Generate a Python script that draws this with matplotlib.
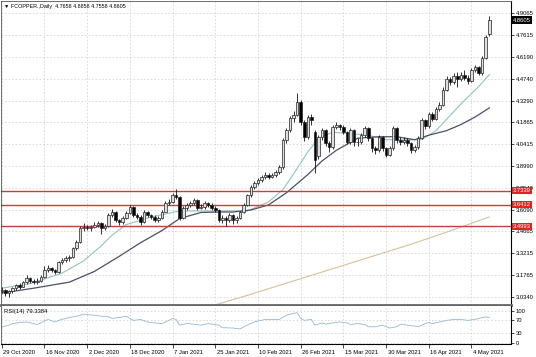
import matplotlib.pyplot as plt
import matplotlib.transforms as mtransforms
import numpy as np

# daily OHLC bars (bar 0 = 29 Oct 2020)
opens = [3.070, 3.078, 3.058, 3.070, 3.090, 3.110, 3.100, 3.130, 3.157, 3.140,
         3.130, 3.140, 3.164, 3.210, 3.220, 3.210, 3.197, 3.263, 3.276, 3.290,
         3.296, 3.355, 3.395, 3.487, 3.494, 3.487, 3.494, 3.507, 3.520, 3.487,
         3.500, 3.573, 3.593, 3.540, 3.527, 3.553, 3.586, 3.626, 3.573, 3.560,
         3.527, 3.593, 3.573, 3.560, 3.540, 3.553, 3.593, 3.652, 3.660, 3.705,
         3.690, 3.553, 3.620, 3.639, 3.652, 3.672, 3.620, 3.626, 3.652, 3.639,
         3.620, 3.606, 3.540, 3.553, 3.540, 3.573, 3.540, 3.553, 3.593, 3.639,
         3.705, 3.758, 3.784, 3.804, 3.824, 3.837, 3.824, 3.837, 3.857, 3.890,
         4.068, 4.134, 4.213, 4.233, 4.320, 4.187, 4.088, 4.220, 4.120, 3.960,
         4.088, 4.134, 4.048, 4.020, 4.154, 4.167, 4.154, 4.120, 4.055, 4.134,
         4.055, 4.055, 4.100, 4.147, 4.081, 4.015, 4.002, 4.088, 4.015, 3.970,
         4.015, 4.147, 4.068, 4.055, 4.068, 4.048, 4.002, 4.020, 4.081, 4.200,
         4.160, 4.240, 4.210, 4.270, 4.300, 4.400, 4.470, 4.450, 4.490, 4.470,
         4.500, 4.480, 4.460, 4.530, 4.550, 4.510, 4.610, 4.7658]
closes = [3.078, 3.058, 3.070, 3.090, 3.110, 3.100, 3.130, 3.157, 3.140, 3.130,
          3.140, 3.164, 3.210, 3.220, 3.210, 3.197, 3.263, 3.276, 3.290, 3.296,
          3.355, 3.395, 3.487, 3.494, 3.487, 3.494, 3.507, 3.520, 3.487, 3.500,
          3.573, 3.593, 3.540, 3.527, 3.553, 3.586, 3.626, 3.573, 3.560, 3.527,
          3.593, 3.573, 3.560, 3.540, 3.553, 3.593, 3.652, 3.660, 3.705, 3.690,
          3.553, 3.620, 3.639, 3.652, 3.672, 3.620, 3.626, 3.652, 3.639, 3.620,
          3.606, 3.540, 3.553, 3.540, 3.573, 3.540, 3.553, 3.593, 3.639, 3.705,
          3.758, 3.784, 3.804, 3.824, 3.837, 3.824, 3.837, 3.857, 3.890, 4.068,
          4.134, 4.213, 4.233, 4.320, 4.187, 4.088, 4.220, 4.200, 3.937, 4.088,
          4.134, 4.048, 4.020, 4.154, 4.167, 4.154, 4.120, 4.055, 4.134, 4.055,
          4.055, 4.100, 4.147, 4.081, 4.015, 4.002, 4.088, 4.015, 3.970, 4.015,
          4.147, 4.068, 4.055, 4.068, 4.048, 4.002, 4.020, 4.081, 4.200, 4.160,
          4.240, 4.210, 4.270, 4.300, 4.400, 4.470, 4.450, 4.490, 4.470, 4.500,
          4.480, 4.460, 4.530, 4.550, 4.510, 4.610, 4.750, 4.8605]
highs = [3.095, 3.085, 3.080, 3.100, 3.120, 3.125, 3.140, 3.175, 3.165, 3.150,
         3.155, 3.175, 3.235, 3.240, 3.230, 3.215, 3.270, 3.290, 3.305, 3.310,
         3.365, 3.410, 3.500, 3.520, 3.505, 3.510, 3.525, 3.535, 3.525, 3.515,
         3.585, 3.610, 3.600, 3.550, 3.565, 3.600, 3.640, 3.635, 3.585, 3.570,
         3.605, 3.600, 3.580, 3.570, 3.565, 3.605, 3.665, 3.680, 3.720, 3.745,
         3.700, 3.635, 3.655, 3.665, 3.685, 3.680, 3.645, 3.665, 3.660, 3.650,
         3.630, 3.615, 3.570, 3.565, 3.585, 3.580, 3.565, 3.600, 3.650, 3.715,
         3.770, 3.800, 3.820, 3.840, 3.855, 3.850, 3.850, 3.870, 3.905, 4.080,
         4.150, 4.225, 4.260, 4.380, 4.330, 4.200, 4.235, 4.240, 4.135, 4.100,
         4.150, 4.140, 4.060, 4.165, 4.185, 4.175, 4.165, 4.130, 4.150, 4.140,
         4.080, 4.115, 4.160, 4.155, 4.090, 4.030, 4.100, 4.095, 4.025, 4.030,
         4.160, 4.155, 4.085, 4.085, 4.080, 4.055, 4.035, 4.095, 4.215, 4.210,
         4.255, 4.250, 4.285, 4.320, 4.415, 4.490, 4.485, 4.510, 4.520, 4.515,
         4.530, 4.495, 4.545, 4.565, 4.560, 4.620, 4.760, 4.8858]
lows = [3.055, 3.040, 3.035, 3.060, 3.080, 3.085, 3.095, 3.120, 3.125, 3.115,
        3.120, 3.130, 3.160, 3.195, 3.195, 3.185, 3.190, 3.250, 3.265, 3.270,
        3.290, 3.345, 3.390, 3.470, 3.475, 3.470, 3.485, 3.495, 3.450, 3.475,
        3.495, 3.560, 3.530, 3.510, 3.515, 3.545, 3.580, 3.560, 3.545, 3.505,
        3.520, 3.560, 3.545, 3.530, 3.530, 3.545, 3.590, 3.640, 3.655, 3.680,
        3.540, 3.545, 3.605, 3.625, 3.640, 3.605, 3.610, 3.615, 3.625, 3.605,
        3.590, 3.525, 3.520, 3.500, 3.530, 3.515, 3.520, 3.545, 3.585, 3.635,
        3.695, 3.745, 3.770, 3.790, 3.810, 3.810, 3.815, 3.825, 3.845, 3.880,
        4.050, 4.120, 4.190, 4.225, 4.170, 4.060, 4.075, 4.170, 3.850, 3.940,
        4.070, 4.030, 3.990, 4.010, 4.140, 4.135, 4.105, 4.040, 4.045, 4.030,
        4.030, 4.045, 4.090, 4.065, 3.990, 3.975, 3.990, 3.995, 3.955, 3.960,
        4.005, 4.050, 4.035, 4.045, 4.030, 3.985, 3.990, 4.010, 4.075, 4.140,
        4.150, 4.195, 4.200, 4.260, 4.290, 4.390, 4.430, 4.440, 4.420, 4.455,
        4.465, 4.440, 4.450, 4.515, 4.495, 4.500, 4.600, 4.7558]

# moving averages: (bar, value)
fast_ma_bar = [0, 8, 17, 23, 28, 31, 35, 42, 50, 56, 64, 69, 75, 79, 83, 86, 89,
               93, 98, 103, 108, 113, 118, 122, 126, 130, 134, 137]
fast_ma_val = [3.09, 3.12, 3.19, 3.27, 3.37, 3.44, 3.51, 3.56, 3.60, 3.60, 3.60,
               3.60, 3.66, 3.74, 3.88, 3.99, 4.08, 4.12, 4.11, 4.10, 4.07, 4.07,
               4.07, 4.13, 4.23, 4.33, 4.42, 4.50]
slow_ma_bar = [0, 9, 19, 26, 33, 39, 45, 50, 56, 61, 65, 70, 75, 80, 86, 90, 94,
               100, 106, 111, 116, 120, 125, 129, 133, 137]
slow_ma_val = [3.058, 3.09, 3.13, 3.20, 3.30, 3.39, 3.47, 3.55, 3.59, 3.593, 3.593,
               3.606, 3.64, 3.72, 3.84, 3.93, 4.00, 4.08, 4.09, 4.09, 4.07, 4.10,
               4.13, 4.17, 4.22, 4.28]
long_ma_bar = [58, 70, 85, 100, 115, 125, 137]
long_ma_val = [2.965, 3.05, 3.16, 3.27, 3.38, 3.46, 3.56]

# RSI(14)
rsi_bar = [0, 2, 3, 5, 7, 9, 10, 12, 13, 15, 16, 17, 19, 21, 23, 26, 28, 30, 31,
           33, 35, 37, 39, 41, 43, 45, 47, 48, 49, 50, 52, 54, 56, 58, 61, 62, 65,
           67, 68, 71, 74, 75, 78, 80, 82, 83, 84, 85, 87, 88, 90, 91, 93, 95, 97,
           98, 100, 102, 103, 105, 107, 109, 111, 112, 114, 116, 117, 119, 120,
           121, 123, 125, 127, 129, 131, 133, 134, 136, 137]
rsi_val = [49, 55, 60, 63, 65, 60, 57, 68, 73, 65, 70, 73, 79, 83, 89, 86, 83, 81,
           76, 79, 83, 70, 73, 65, 62, 60, 70, 76, 73, 55, 60, 58, 55, 60, 55, 47,
           46, 43, 50, 65, 73, 73, 73, 86, 92, 94, 76, 70, 73, 55, 62, 58, 62, 65,
           62, 57, 60, 57, 50, 50, 55, 46, 50, 58, 55, 52, 50, 60, 63, 60, 65, 70,
           73, 73, 70, 73, 76, 81, 79.3384]

price_ticks = [4.9065, 4.7615, 4.6190, 4.4740, 4.3290, 4.1865, 4.0415, 3.8990,
               3.7540, 3.6090, 3.4665, 3.3215, 3.1765, 3.0340]
level_lines = [3.7339, 3.6412, 3.4993]
date_labels = ['29 Oct 2020', '16 Nov 2020', '2 Dec 2020', '18 Dec 2020',
               '7 Jan 2021', '25 Jan 2021', '10 Feb 2021', '26 Feb 2021',
               '15 Mar 2021', '30 Mar 2021', '16 Apr 2021', '4 May 2021']

plt.rcParams['font.family'] = ['Liberation Sans', 'DejaVu Sans']
fs = 4.2
grid_kw = dict(color='#cfcfcf', linestyle=(0, (2.5, 2.5)), linewidth=0.5)

fig = plt.figure(figsize=(5.36, 3.57), dpi=100)
ax = fig.add_axes([1/536, 52/357, 510/536, 304/357])
ax2 = fig.add_axes([1/536, 13/357, 510/536, 38/357], sharex=ax)

x = np.arange(len(closes))
o = np.array(opens)
c = np.array(closes)
up = c >= o

# candles
ax.vlines(x, lows, highs, color='#111111', linewidth=0.6, zorder=3)
ax.bar(x, np.abs(c - o), bottom=np.minimum(o, c), width=0.72,
       color=np.where(up, '#dedede', 'black'), edgecolor='#222222', linewidth=0.5, zorder=4)

ax.plot(fast_ma_bar, fast_ma_val, color='#8fc4c0', linewidth=0.8, zorder=2)
ax.plot(slow_ma_bar, slow_ma_val, color='#4a5068', linewidth=0.9, zorder=2)
ax.plot(long_ma_bar, long_ma_val, color='#d9bf9a', linewidth=0.8, zorder=2)

for lv in level_lines:
    ax.axhline(lv, color='#d03a3a', linewidth=1.0, zorder=2.5)

ax.set_xlim(-0.2, 143.1)
ax.set_ylim(2.979, 4.986)
ax.set_yticks(price_ticks)
ax.set_yticklabels(['%.4f' % t for t in price_ticks])
ax.yaxis.tick_right()
ax.tick_params(axis='y', labelsize=fs, length=2, width=0.5, pad=1.5)
ax.tick_params(axis='x', bottom=False, labelbottom=False)
ax.set_xticks(np.arange(0, 133, 12))
ax.grid(True, **grid_kw)
ax.set_axisbelow(True)
for s in ['top', 'left']:
    ax.spines[s].set_color('#555555')
    ax.spines[s].set_linewidth(0.6)
ax.spines['right'].set_linewidth(0.8)
ax.spines['bottom'].set_color('#666666')
ax.spines['bottom'].set_linewidth(2)

# price label boxes on the right scale
ytr = ax.get_yaxis_transform()
for lv in level_lines:
    ax.text(1.004, lv, '%.4f' % lv, transform=ytr, fontsize=fs, color='white',
            ha='left', va='center', clip_on=False, zorder=10,
            bbox=dict(boxstyle='square,pad=0.2', fc='#e02424', ec='none'))
ax.text(1.004, closes[-1], '%.4f' % closes[-1], transform=ytr, fontsize=fs,
        color='white', ha='left', va='center', clip_on=False, zorder=10,
        bbox=dict(boxstyle='square,pad=0.2', fc='black', ec='none'))

ax.text(0.006, 0.99, '\u25bc FCOPPER.,Daily  %.4f %.4f %.4f %.4f'
        % (opens[-1], highs[-1], lows[-1], closes[-1]),
        transform=ax.transAxes, fontsize=3.9, ha='left', va='top')

# RSI panel
ax2.plot(rsi_bar, rsi_val, color='#8fbad8', linewidth=0.6)
ax2.set_ylim(-4, 115)
ax2.set_yticks([0, 30, 70, 100])
ax2.yaxis.tick_right()
ax2.tick_params(axis='y', labelsize=fs, length=2, width=0.5, pad=1.5)
ax2.grid(True, **grid_kw)
ax2.text(0.006, 0.93, 'RSI(14) %.4f' % rsi_val[-1], transform=ax2.transAxes,
         fontsize=fs, ha='left', va='top')
ax2.set_xticks(np.arange(0, 133, 12))
ax2.set_xticklabels(date_labels, ha='left')
ax2.tick_params(axis='x', labelsize=fs, length=3, width=0.5, pad=1)
shift = mtransforms.ScaledTranslation(1.5/100, 0, fig.dpi_scale_trans)
for lab in ax2.get_xticklabels():
    lab.set_transform(lab.get_transform() + shift)
ax2.spines['top'].set_visible(False)
ax2.spines['left'].set_color('#555555')
ax2.spines['left'].set_linewidth(0.6)
ax2.spines['right'].set_linewidth(0.8)
ax2.spines['bottom'].set_linewidth(0.8)

fig.savefig('out.png', dpi=100, facecolor='white')
